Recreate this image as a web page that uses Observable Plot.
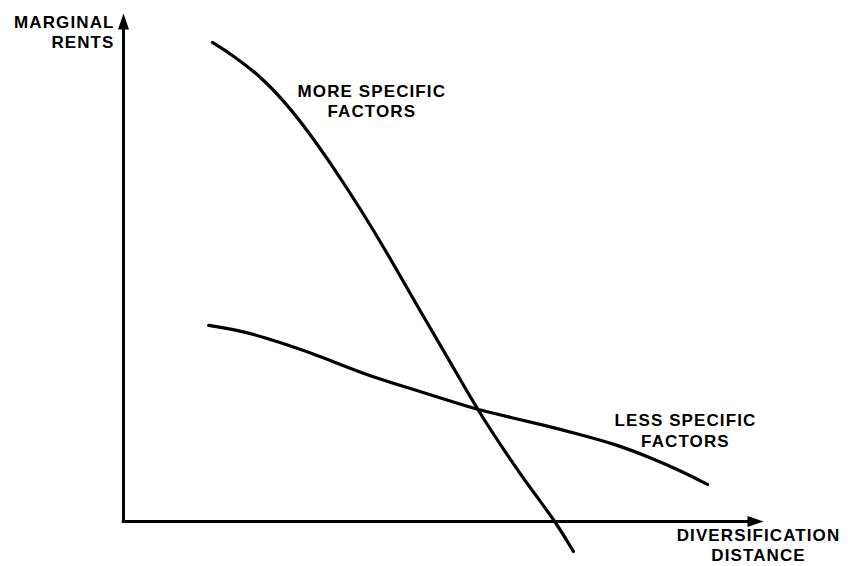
<!DOCTYPE html>
<html><head><meta charset="utf-8">
<script src="https://cdn.jsdelivr.net/npm/d3@7"></script>
<script src="https://cdn.jsdelivr.net/npm/@observablehq/plot@0.6"></script>
<style>
body{margin:0;background:#fff;}
#chart svg{display:block;}
#chart svg text{letter-spacing:1.1px;}
</style>
</head><body><div id="chart"></div>
<script>
// Diversification distance (x) and marginal rents (y) (0–100 scale)
const moreX = [13.9, 17.2, 21.4, 25.0, 28.75, 32.8, 37.0, 41.7, 46.4, 51.1, 55.3, 60.0, 63.6, 67.5, 70.3];
const moreY = [94.3, 91.7, 87.6, 82.9, 77.0, 69.7, 61.6, 51.8, 41.3, 31.3, 22.0, 13.0, 6.5, 0, -5.9];
const lessX = [13.3, 19.1, 24.5, 29.5, 34.7, 39.8, 45.3, 50.3, 55.3, 60.5, 65.9, 71.4, 76.9, 82.3, 87.0, 91.25];
const lessY = [38.6, 37.4, 35.2, 33.1, 30.5, 28.1, 26.0, 24.0, 22.0, 20.5, 18.9, 17.1, 15.2, 12.6, 10.0, 7.3];
const yLabel = ["MARGINAL", "RENTS"];
const xLabel = ["DIVERSIFICATION", "DISTANCE"];
const moreLabel = ["MORE SPECIFIC", "FACTORS"];
const lessLabel = ["LESS SPECIFIC", "FACTORS"];

const more = moreX.map((x, i) => ({x, y: moreY[i]}));
const less = lessX.map((x, i) => ({x, y: lessY[i]}));

const arrowHead = {draw(ctx) { ctx.moveTo(0, 0); ctx.lineTo(-5.5, 16); ctx.lineTo(5.5, 16); ctx.closePath(); }};

const font = {fontFamily: "'Liberation Sans', Arial, sans-serif", fontSize: 17, fontWeight: "bold", fill: "black", lineHeight: 1.2};

const chart = Plot.plot({
  width: 848, height: 566,
  marginLeft: 123, marginRight: 85, marginTop: 13, marginBottom: 45,
  x: {domain: [0, 100], axis: null},
  y: {domain: [0, 100], axis: null},
  marks: [
    Plot.ruleX([0], {y1: 0, y2: 97, stroke: "black", strokeWidth: 3}),
    Plot.ruleY([0], {x1: -0.2, x2: 98, stroke: "black", strokeWidth: 3}),
    Plot.dot([{x: 0, y: 100}], {x: "x", y: "y", symbol: arrowHead, fill: "black", stroke: "none"}),
    Plot.dot([{x: 100, y: 0}], {x: "x", y: "y", symbol: arrowHead, fill: "black", stroke: "none", rotate: 90}),
    Plot.line(more, {x: "x", y: "y", curve: "basis", stroke: "black", strokeWidth: 3.2}),
    Plot.line(less, {x: "x", y: "y", curve: "basis", stroke: "black", strokeWidth: 3.2}),
    Plot.text([yLabel.join("\n")], {x: 0, y: 100, dx: -9, dy: 18, textAnchor: "end", lineAnchor: "middle", ...font}),
    Plot.text([xLabel.join("\n")], {x: 100, y: 0, dx: -5, dy: 23, textAnchor: "middle", lineAnchor: "middle", ...font}),
    Plot.text([moreLabel.join("\n")], {x: 38.8, y: 82.9, textAnchor: "middle", lineAnchor: "middle", ...font}),
    Plot.text([lessLabel.join("\n")], {x: 87.8, y: 18.0, textAnchor: "middle", lineAnchor: "middle", ...font})
  ]
});
document.getElementById("chart").append(chart);
</script>
</body></html>
